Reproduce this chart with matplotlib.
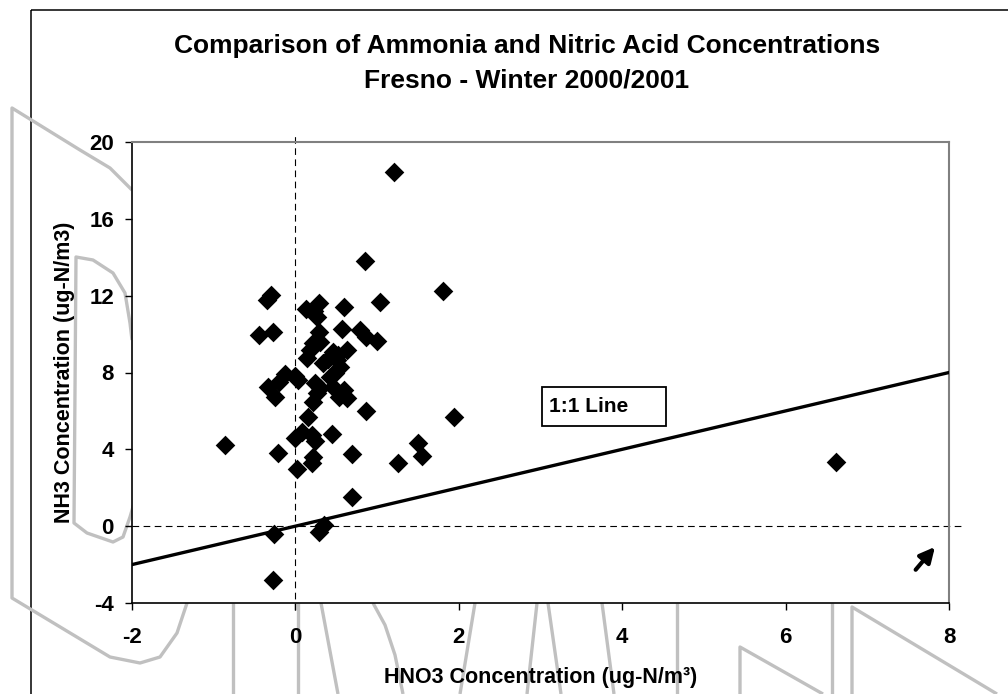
import matplotlib
matplotlib.use("Agg")
import matplotlib.pyplot as plt
from matplotlib.patches import Rectangle

plt.rcParams['font.family'] = ['Liberation Sans', 'DejaVu Sans']
plt.rcParams['font.weight'] = 'bold'
plt.rcParams['axes.unicode_minus'] = False

# HNO3 vs NH3 concentrations (ug-N/m3)
hno3 = [1.21, 0.85, 1.81, -0.30, -0.35, 1.03, 0.29, 0.13, 0.60, 0.26,
        0.23, -0.45, -0.27, 0.29, 0.57, 0.79, 0.87, 0.995, 0.22, 0.30,
        0.18, 0.63, 0.46, 0.52, 0.505, 0.14, 0.34, 0.40, 0.545, 0.42,
        0.48, -0.13, -0.20, 0.035, 0.0, 0.24, 0.30, -0.33, -0.25, 0.26,
        0.22, 0.59, 0.53, 0.63, 0.46, 0.86, 1.94, 0.15, -0.86, -0.005,
        0.08, 0.20, 0.45, 1.50, -0.21, 0.22, 0.69, 1.26, 1.55, 0.016,
        0.20, 0.69, 0.35, 0.29, -0.26, -0.28, 6.62, 0.24]
nh3 = [18.45, 13.8, 12.26, 12.05, 11.8, 11.67, 11.6, 11.3, 11.4, 10.9,
       11.2, 9.96, 10.12, 10.1, 10.26, 10.2, 9.86, 9.65, 9.52, 9.6,
       9.17, 9.17, 9.08, 8.9, 8.65, 8.73, 8.47, 8.7, 8.3, 7.78,
       8.0, 7.9, 7.5, 7.6, 7.8, 7.43, 7.2, 7.26, 6.74, 6.91,
       6.47, 7.08, 6.74, 6.67, 7.26, 6.02, 5.66, 5.66, 4.22, 4.57,
       4.91, 4.74, 4.79, 4.35, 3.79, 3.61, 3.76, 3.3, 3.65, 3.0,
       3.27, 1.53, 0.08, -0.28, -0.4, -2.78, 3.32, 4.45]

one_to_one = [-2, 8]
zero_h_x = [-2, 8.16]
zero_v_y = [-4.37, 20.45]

x_ticks = [-2, 0, 2, 4, 6, 8]
y_ticks = [-4, 0, 4, 8, 12, 16, 20]

W, H = 1008, 694
fig = plt.figure(figsize=(W / 100, H / 100), dpi=100)

# faint background logo outline (pixel coords)
bg = fig.add_axes([0, 0, 1, 1], zorder=-2)
bg.set_xlim(0, W)
bg.set_ylim(H, 0)
bg.axis('off')
logo = [
    [(132, 190), (110, 168), (80, 150), (12, 108), (12, 598), (110, 657),
     (140, 663), (160, 657), (177, 633), (187, 603), (195, 560)],
    [(132, 340), (130, 323), (125, 293), (113, 273), (93, 260), (76, 257),
     (74, 523), (87, 533), (113, 542), (123, 537), (130, 517), (135, 500)],
    [(233, 603), (233, 694)],
    [(298, 603), (298, 694)],
    [(321, 603), (338, 694)],
    [(373, 603), (385, 625), (395, 655), (403, 694)],
    [(475, 603), (460, 694)],
    [(537, 603), (527, 694)],
    [(548, 603), (561, 694)],
    [(602, 603), (614, 694)],
    [(677, 603), (677, 694)],
    [(740, 694), (740, 647), (823, 694)],
    [(832, 603), (832, 694)],
    [(852, 694), (852, 607), (997, 694)],
]
for seg in logo:
    bg.plot([p[0] for p in seg], [p[1] for p in seg], color='#c0c0c0',
            lw=2.4, solid_capstyle='butt')
# chart area frame
bg.add_patch(Rectangle((31, 10), 1100, 800, fill=False, ec='black', lw=1.1))

ax = fig.add_axes([132 / W, 1 - 603 / H, (949 - 132) / W, (603 - 142) / H])
ax.set_facecolor('white')

ax.plot(zero_h_x, [0, 0], color='black', lw=0.8, dashes=(6, 4), clip_on=False)
ax.plot([0, 0], zero_v_y, color='black', lw=0.8, dashes=(6, 4), clip_on=False)
ax.scatter(hno3, nh3, marker='D', s=100, color='black', zorder=3, linewidths=0)
ax.plot(one_to_one, one_to_one, color='black', lw=2.4, zorder=4)

ax.add_patch(Rectangle((3.02, 5.2), 1.52, 2.04, fill=False, ec='black', lw=1.3, zorder=5))
ax.text(3.1, 6.22, '1:1 Line', fontsize=15, fontweight='bold', va='center', ha='left')
ax.annotate('', xy=(7.85, -0.97), xytext=(7.57, -2.38),
            arrowprops=dict(arrowstyle='-|>,head_length=0.9,head_width=0.45',
                            color='black', lw=3.0))

ax.set_xlim(-2, 8)
ax.set_ylim(-4, 20)
ax.set_xticks(x_ticks)
ax.set_yticks(y_ticks)
ax.tick_params(direction='out', length=5, width=1, labelsize=16)
ax.tick_params(axis='x', pad=12)
ax.tick_params(axis='y', pad=8)
for lab in ax.get_xticklabels() + ax.get_yticklabels():
    lab.set_fontweight('bold')
for side in ['top', 'right']:
    ax.spines[side].set_color('#808080')
    ax.spines[side].set_linewidth(1.5)
for side in ['left', 'bottom']:
    ax.spines[side].set_color('black')
    ax.spines[side].set_linewidth(1.2)

ax.set_xlabel('HNO3 Concentration (ug-N/m³)', fontsize=15.5, fontweight='bold', labelpad=14)
ax.set_ylabel('NH3 Concentration (ug-N/m3)', fontsize=15.5, fontweight='bold', labelpad=10)

fig.text(527 / W, 1 - 46 / H, 'Comparison of Ammonia and Nitric Acid Concentrations',
         fontsize=19, fontweight='bold', ha='center', va='center')
fig.text(527 / W, 1 - 80 / H, 'Fresno - Winter 2000/2001',
         fontsize=19, fontweight='bold', ha='center', va='center')

fig.savefig('out.png', dpi=100)
